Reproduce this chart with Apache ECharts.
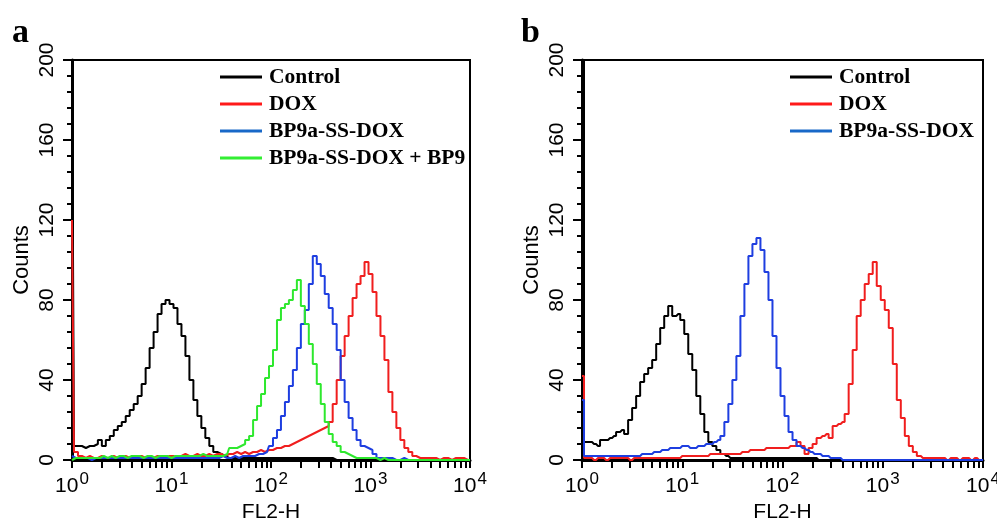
<!DOCTYPE html>
<html>
<head>
<meta charset="utf-8">
<script src="https://cdn.jsdelivr.net/npm/echarts@6/dist/echarts.min.js"></script>
<style>
html,body{margin:0;padding:0;background:#fff;}
#chart{width:997px;height:520px;}
</style>
</head>
<body>
<div id="chart"></div>
<script>
// Histogram channel grid: log10(FL2-H) positions, 25 bins per decade (0 .. 4)
const bins = [];
for (let i = 0; i <= 100; i++) bins.push(+(i * 0.04).toFixed(2));

const seriesNamesA = ['Control', 'DOX', 'BP9a-SS-DOX', 'BP9a-SS-DOX + BP9'];
const seriesNamesB = ['Control', 'DOX', 'BP9a-SS-DOX'];

// Panel a counts
const controlA = [200,7,7,6,7,7,8,10,7,10, 12,15,17,19,22,25,28,32,38,46, 56,64,73,78,80,78,76,68,62,52, 40,30,22,16,11,7,4,3,2,1, 1,1,1,1,1,1,1,1,1,1, 1,1,1,1,1,1,1,1,1,1, 1,1,1,1,1,1,0,0,0,0, 0,0,0,0,0,0,0,0,0,0, 0,0,0,0,0,0,0,0,0,0, 0,0,0,0,0,0,0,0,0,0, 0];
const doxA = [120,4,2,1,2,1,1,2,1,1, 2,1,1,2,1,1,2,2,1,2, 1,2,2,1,2,2,1,2,3,2, 2,3,2,2,3,2,3,3,2,3, 3,4,3,4,3,4,4,5,4,5, 5,6,6,7,7,8,9,10,11,12, 13,14,15,16,17,19,28,40,52,62, 72,81,88,92,99,93,84,72,62,50, 34,24,16,10,6,4,2,1,1,1, 1,1,0,1,1,0,1,1,1,0, 0];
const bpA = [2,1,1,1,1,0,1,1,1,1, 1,1,1,1,1,1,1,1,1,1, 1,1,1,1,1,1,1,1,1,1, 1,1,1,1,1,1,1,1,2,1, 1,2,1,2,2,2,2,3,3,4, 7,11,15,22,29,37,45,56,68,75, 88,102,98,92,83,76,68,55,40,29, 21,15,10,7,6,5,3,1,1,1, 1,0,0,1,0,0,0,0,0,0, 0,0,0,0,0,0,0,0,0,0, 0];
const bpBp9A = [0,1,1,1,1,1,1,1,2,1, 2,1,2,2,1,2,2,2,1,2, 2,1,2,2,2,1,2,2,2,2, 2,2,2,3,2,2,2,2,2,3, 6,6,7,8,10,12,20,27,33,41, 47,55,70,76,78,80,85,90,77,68, 58,48,38,28,19,13,9,7,4,3, 2,1,1,1,1,1,1,0,1,0, 0,0,0,0,0,0,0,0,0,0, 0,0,0,0,0,0,0,0,0,0, 0];

// Panel b counts
const controlB = [200,9,9,8,7,10,10,11,12,14, 15,13,20,26,32,39,43,46,50,58, 66,72,77,72,73,70,63,53,45,32, 23,14,9,7,5,3,2,1,1,1, 1,1,1,1,1,1,1,1,1,1, 1,1,1,1,1,1,1,1,1,0, 0,0,0,0,0,0,0,0,0,0, 0,0,0,0,0,0,0,0,0,0, 0,0,0,0,0,0,0,0,0,0, 0,0,0,0,0,0,0,0,0,0, 0];
const doxB = [42,1,1,0,1,1,0,1,1,1, 1,1,0,1,1,1,1,1,1,1, 1,1,1,1,1,2,2,2,2,2, 2,2,3,3,3,3,3,3,3,3, 4,4,5,5,5,5,6,6,6,6, 6,6,7,7,9,7,3,6,8,11, 12,13,11,17,18,19,23,38,55,72, 80,88,93,99,87,80,75,66,48,30, 21,12,7,4,2,1,1,1,1,1, 1,0,1,1,0,1,1,0,1,0, 0];
const bpB = [30,2,2,2,2,2,2,2,2,2, 2,2,2,2,2,3,3,3,4,4, 5,5,6,6,6,7,7,6,6,7, 7,8,8,9,10,12,19,28,40,52, 72,88,102,108,111,105,94,80,62,46, 32,22,14,10,7,6,5,4,3,3, 2,2,1,1,1,0,0,0,0,0, 0,0,0,0,0,0,0,0,0,0, 0,0,0,0,0,0,0,0,0,0, 0,0,0,0,0,0,0,0,0,0, 0];

const colors = {
  'Control': '#000000',
  'DOX': '#f01e1e',
  'BP9a-SS-DOX': '#1e3ee0',
  'BP9a-SS-DOX + BP9': '#2ee82e'
};
const legendColors = {
  'Control': '#000000',
  'DOX': '#ff1a1a',
  'BP9a-SS-DOX': '#1868c8',
  'BP9a-SS-DOX + BP9': '#33ee33'
};

// tick positions on the log axis (decades plus 2..9 within each decade), in log10 units
const decadeTicks = [0, 1, 2, 3, 4];
const minorMultipliers = [2, 3, 4, 5, 6, 7, 8, 9];
const allTicks = decadeTicks.slice();
[0, 1, 2, 3].forEach(d => minorMultipliers.forEach(k => allTicks.push(d + Math.log10(k))));
allTicks.sort((a, b) => a - b);

function pairs(counts) { return counts.map((c, i) => [bins[i], c]); }

const FONT = 'Liberation Sans, Arial, Helvetica, sans-serif';

function xAxis(gi) {
  return {
    type: 'value', gridIndex: gi, min: 0, max: 4, interval: 1, position: 'bottom',
    axisLine: { show: true, onZero: false, lineStyle: { color: '#000', width: 3 } },
    axisTick: { show: true, length: 8, customValues: allTicks, lineStyle: { color: '#000', width: 2 } },
    splitLine: { show: false },
    axisLabel: {
      show: true, margin: 11, color: '#000',
      formatter: v => '{b|10}{s|' + Math.round(v) + '}',
      rich: {
        b: { fontSize: 21, fontFamily: FONT, color: '#000', verticalAlign: 'bottom' },
        s: { fontSize: 17, fontFamily: FONT, color: '#000', verticalAlign: 'bottom', padding: [0, 0, 9, 1] }
      }
    },
    name: 'FL2-H', nameLocation: 'middle', nameGap: 40,
    nameTextStyle: { fontSize: 21, fontFamily: FONT, color: '#000' }
  };
}

function yAxis(gi) {
  return {
    type: 'value', gridIndex: gi, min: 0, max: 200, interval: 40,
    axisLine: { show: true, onZero: false, lineStyle: { color: '#000', width: 3 } },
    axisTick: { show: true, length: 9, lineStyle: { color: '#000', width: 2 } },
    minorTick: { show: true, splitNumber: 5, length: 5, lineStyle: { color: '#000', width: 2 } },
    splitLine: { show: false },
    minorSplitLine: { show: false },
    axisLabel: { rotate: 90, fontSize: 21, fontFamily: FONT, color: '#000', margin: 14 },
    name: 'Counts', nameLocation: 'middle', nameGap: 39, nameRotate: 90,
    nameTextStyle: { fontSize: 22, fontFamily: FONT, color: '#000' }
  };
}

function mkSeries(name, counts, gi) {
  return {
    type: 'line', name: name, step: 'middle', symbol: 'none', showSymbol: false,
    xAxisIndex: gi, yAxisIndex: gi, data: pairs(counts),
    lineStyle: { color: colors[name], width: 2 }, itemStyle: { color: colors[name] },
    clip: true, silent: true
  };
}

function legend(names, left) {
  return {
    left: left, top: 66, padding: 0, orient: 'vertical', itemWidth: 42, itemHeight: 3, itemGap: 5,
    icon: 'rect', selectedMode: false,
    data: names.map(n => ({ name: n, itemStyle: { color: legendColors[n] } })),
    textStyle: { fontFamily: 'Liberation Serif, Times New Roman, serif', fontWeight: 'bold', fontSize: 21.5, color: '#000', padding: [0, 0, 0, 2] }
  };
}

const option = {
  animation: false,
  backgroundColor: '#fff',
  grid: [
    { left: 72, top: 60, width: 398, height: 400, show: true, borderColor: '#000', borderWidth: 2, backgroundColor: 'transparent', containLabel: false, outerBoundsMode: 'none' },
    { left: 582, top: 60, width: 401, height: 400, show: true, borderColor: '#000', borderWidth: 2, backgroundColor: 'transparent', containLabel: false, outerBoundsMode: 'none' }
  ],
  xAxis: [xAxis(0), xAxis(1)],
  yAxis: [yAxis(0), yAxis(1)],
  legend: [legend(seriesNamesA, 220), legend(seriesNamesB, 790)],
  graphic: [
    { type: 'text', left: 12, top: 16, style: { text: 'a', font: 'bold 34px "Liberation Serif", serif', fill: '#000' } },
    { type: 'text', left: 521, top: 16, style: { text: 'b', font: 'bold 34px "Liberation Serif", serif', fill: '#000' } }
  ],
  series: [
    mkSeries('Control', controlA, 0),
    mkSeries('DOX', doxA, 0),
    mkSeries('BP9a-SS-DOX', bpA, 0),
    mkSeries('BP9a-SS-DOX + BP9', bpBp9A, 0),
    mkSeries('Control', controlB, 1),
    mkSeries('DOX', doxB, 1),
    mkSeries('BP9a-SS-DOX', bpB, 1)
  ]
};

const chart = echarts.init(document.getElementById('chart'), null, { renderer: 'canvas' });
chart.setOption(option);
</script>
</body>
</html>
